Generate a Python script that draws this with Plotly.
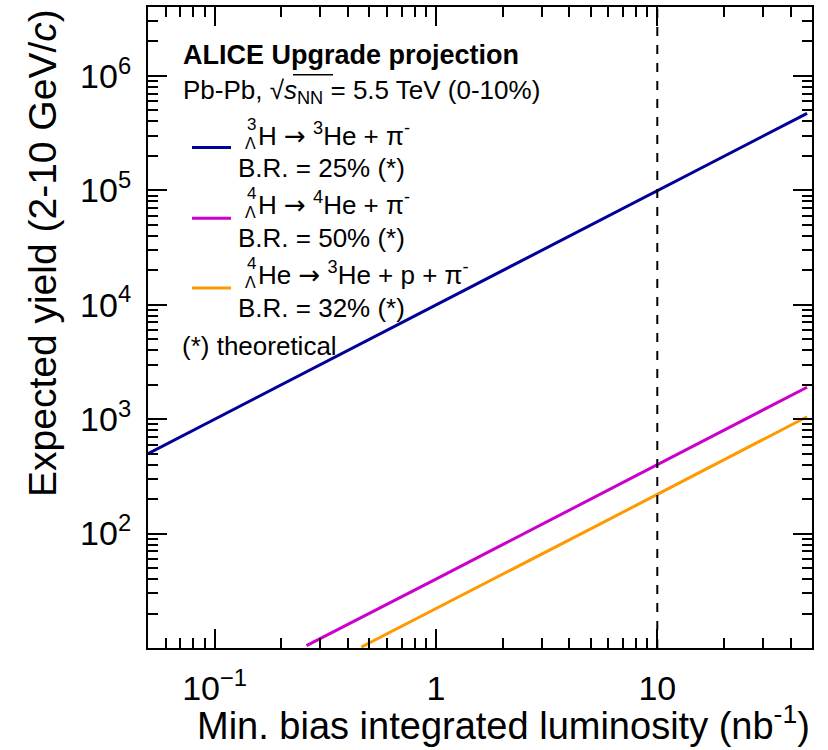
import plotly.graph_objects as go

# ---------------- data ----------------
lumi_h3 = [0.05, 0.1, 0.2, 0.5, 1, 2, 5, 10, 20, 47.5]
yield_h3 = [500, 1000, 2000, 5000, 1.0e4, 2.0e4, 5.0e4, 1.0e5, 2.0e5, 4.7e5]

lumi_h4 = [0.26, 0.5, 1, 2, 5, 10, 20, 47.5]
yield_h4 = [10.5, 20, 40, 80, 200, 400, 800, 1900]

lumi_he4 = [0.46, 1, 2, 5, 10, 20, 47.5]
yield_he4 = [10.2, 22, 44, 110, 220, 440, 1050]

x_tickvals = [0.1, 1, 10]
x_ticktext = ["10<sup>\u22121</sup>", "1", "10"]
y_tickvals = [1e2, 1e3, 1e4, 1e5, 1e6]
y_ticktext = ["10<sup>2</sup>", "10<sup>3</sup>", "10<sup>4</sup>", "10<sup>5</sup>", "10<sup>6</sup>"]

x_minor = [0.06, 0.07, 0.08, 0.09] + [k * 0.1 for k in range(2, 10)] + list(range(2, 10)) + [20, 30, 40]
y_minor = [m * 10 ** e for e in range(1, 7) for m in range(2, 10) if m * 10 ** e <= 4e6]

colors = ["#000099", "#cc00cc", "#ff9900"]
FONT = "Liberation Sans, Arial, Helvetica, sans-serif"
ARROW = '<span style="font-family:DejaVu Sans">\u2192</span>'

# plot-area geometry (pixels)
L, R, T, B = 148, 812, 5, 648
W, H = 828, 750


def px(x):
    return (x - L) / (R - L)


def py(y):
    return (B - y) / (B - T)


fig = go.Figure()
for xs, ys, c in [(lumi_h3, yield_h3, colors[0]), (lumi_h4, yield_h4, colors[1]), (lumi_he4, yield_he4, colors[2])]:
    fig.add_trace(go.Scatter(x=xs, y=ys, mode="lines", line=dict(color=c, width=3), showlegend=False,
                             hoverinfo="skip"))

axis_common = dict(
    type="log", showgrid=False, zeroline=False, showline=True, linecolor="black", linewidth=2,
    mirror="allticks", ticks="inside", ticklen=19, tickwidth=2, tickcolor="black",
    tickfont=dict(family=FONT, size=34, color="black"),
)
fig.update_xaxes(**axis_common, range=[-1.30103, 1.69897], tickmode="array", tickvals=x_tickvals,
                 ticktext=x_ticktext, ticklabelstandoff=9,
                 minor=dict(tickmode="array", tickvals=x_minor, ticklen=10, tickwidth=2, tickcolor="black",
                            ticks="inside"))
fig.update_yaxes(**axis_common, range=[1.0, 6.60206], tickmode="array", tickvals=y_tickvals,
                 ticktext=y_ticktext, ticklabelstandoff=8,
                 minor=dict(tickmode="array", tickvals=y_minor, ticklen=10, tickwidth=2, tickcolor="black",
                            ticks="inside"))

shapes = []
# dashed reference line at 10 nb^-1
shapes.append(dict(type="line", xref="x", yref="paper", x0=10, x1=10, y0=0, y1=1,
                   line=dict(color="black", width=2, dash="dash")))
# legend line samples
for c, yl in zip(colors, [146, 217, 287]):
    shapes.append(dict(type="line", xref="paper", yref="paper", x0=px(192), x1=px(231), y0=py(yl), y1=py(yl),
                       line=dict(color=c, width=3)))
# overline of the sqrt
shapes.append(dict(type="line", xref="paper", yref="paper", x0=px(293), x1=px(333), y0=py(73), y1=py(73),
                   line=dict(color="black", width=1.5)))
fig.update_layout(shapes=shapes)

ann = []


def text(x, y, s, size=26, anchor="left", bold=False, **kw):
    if bold:
        s = "<b>" + s + "</b>"
    ann.append(dict(xref="paper", yref="paper", x=px(x), y=py(y), text=s, showarrow=False, xanchor=anchor,
                    yanchor="middle", font=dict(family=FONT, size=size, color="black"), **kw))


text(181, 53, "ALICE Upgrade projection", size=27, bold=True)
text(181, 90, "Pb-Pb, \u221a<i>s</i><sub>NN</sub> = 5.5 TeV (0-10%)", size=26)

entries = [
    ("3", "H " + ARROW + " <sup>3</sup>He + \u03c0<sup>-</sup>", "B.R. = 25% (*)", 133, 167),
    ("4", "H " + ARROW + " <sup>4</sup>He + \u03c0<sup>-</sup>", "B.R. = 50% (*)", 202, 237),
    ("4", "He " + ARROW + " <sup>3</sup>He + p + \u03c0<sup>-</sup>", "B.R. = 32% (*)", 272, 307),
]
for sup, main, br, ym, yb in entries:
    text(245, ym - 10, sup, size=17)
    text(243, ym + 9, "\u039b", size=16)
    text(256, ym, main, size=26)
    text(236, yb, br, size=26)

text(180, 345, "(*) theoretical", size=26)

# axis titles (ROOT style: aligned to the end of the axis)
ann.append(dict(xref="paper", yref="paper", x=1.0, y=py(723), xanchor="right", yanchor="middle",
                text="Min. bias integrated luminosity (nb<sup>-1</sup>)", showarrow=False,
                font=dict(family=FONT, size=38, color="black")))
ann.append(dict(xref="paper", yref="paper", x=px(42), y=1.0, xanchor="center", yanchor="top", textangle=-90,
                text="Expected yield (2-10 GeV/<i>c</i>)", showarrow=False,
                font=dict(family=FONT, size=39, color="black")))
fig.update_layout(annotations=ann)

fig.update_layout(width=W, height=H, margin=dict(l=L, r=W - R, t=T, b=H - B), plot_bgcolor="white",
                  paper_bgcolor="white", font=dict(family=FONT, color="black"))

fig.write_html("out.html")
